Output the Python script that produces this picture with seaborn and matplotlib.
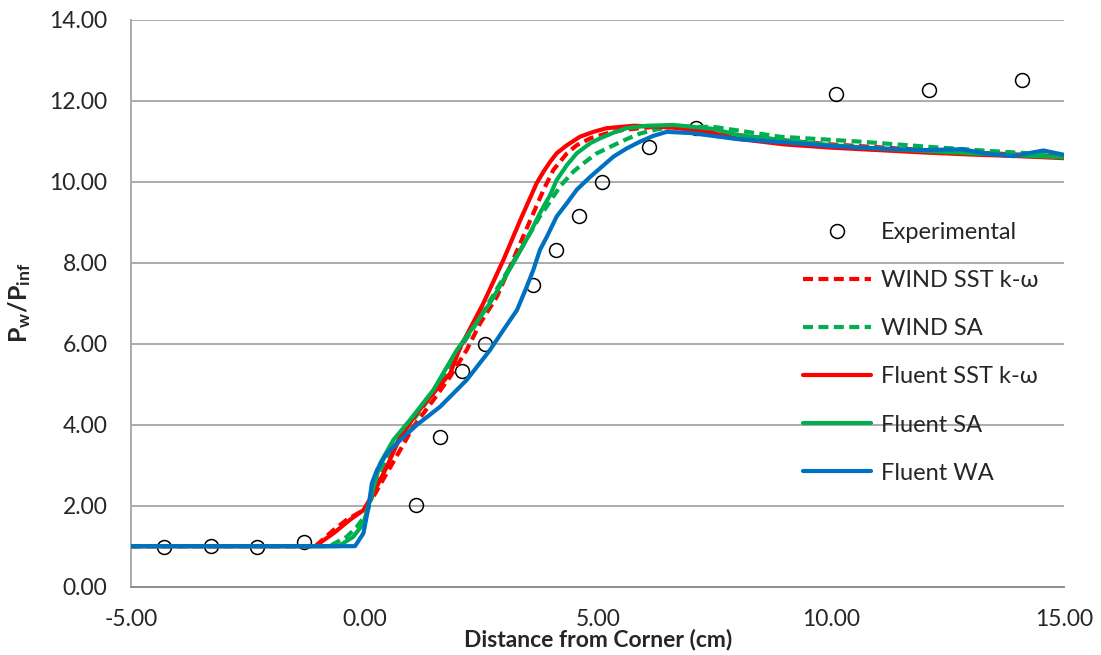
import matplotlib
matplotlib.use("Agg")
import matplotlib.pyplot as plt
import seaborn as sns
import pandas as pd
from matplotlib.ticker import MultipleLocator, FormatStrFormatter

# ---------------- data ----------------
exp_x = [-4.29, -3.29, -2.29, -1.29, 1.11, 1.61, 2.10, 2.59, 3.61, 4.11, 4.59, 5.09, 6.10, 7.10, 10.10, 12.10, 14.10]
exp_y = [0.99, 1.01, 0.99, 1.10, 2.02, 3.69, 5.33, 5.98, 7.45, 8.31, 9.14, 9.98, 10.85, 11.33, 12.17, 12.27, 12.52]

wind_sst_x = [-5.0, -1.05, -0.66, -0.38, -0.02, 0.19, 0.48, 0.77, 1.05, 1.48, 1.84, 2.19, 2.48, 2.84, 3.09,
              3.34, 3.59, 3.84, 4.05, 4.34, 4.55, 4.84, 5.19, 5.55, 6.26, 7.0, 8.0, 9.0, 10.0, 11.0, 12.0,
              13.0, 14.0, 15.0]
wind_sst_y = [1.0, 1.0, 1.40, 1.65, 1.89, 2.22, 2.80, 3.38, 3.95, 4.61, 5.19, 5.84, 6.50, 7.16, 7.82,
              8.48, 9.14, 9.80, 10.29, 10.70, 10.90, 11.07, 11.19, 11.28, 11.36, 11.30, 11.15, 11.02, 10.92,
              10.85, 10.78, 10.72, 10.67, 10.62]

wind_sa_x = [-5.0, -0.75, -0.38, -0.16, 0.05, 0.19, 0.41, 0.69, 1.05, 1.48, 1.98, 2.40, 2.91, 3.34, 3.76,
             3.98, 4.19, 4.48, 4.69, 4.98, 5.34, 5.62, 5.91, 6.26, 6.62, 7.5, 8.9, 10.6, 12.1, 13.5, 15.0]
wind_sa_y = [1.0, 1.0, 1.23, 1.48, 1.81, 2.30, 2.96, 3.54, 4.12, 4.78, 5.76, 6.50, 7.49, 8.31, 9.14,
             9.51, 9.88, 10.25, 10.45, 10.70, 10.90, 11.05, 11.19, 11.29, 11.36, 11.35, 11.11, 10.99,
             10.86, 10.75, 10.65]

fl_sst_x = [-5.0, -1.05, -0.66, -0.31, -0.02, 0.19, 0.48, 0.77, 1.12, 1.48, 1.84, 2.05, 2.55, 2.98, 3.34,
            3.69, 3.84, 3.98, 4.12, 4.34, 4.62, 4.91, 5.19, 5.77, 6.30, 6.76, 7.34, 8.05, 9.0, 10.0, 11.0,
            12.0, 13.0, 14.0, 15.0]
fl_sst_y = [1.0, 1.0, 1.32, 1.65, 1.89, 2.30, 2.96, 3.70, 4.28, 4.78, 5.27, 5.90, 7.00, 8.07, 9.05,
            9.96, 10.25, 10.49, 10.70, 10.90, 11.11, 11.23, 11.32, 11.38, 11.36, 11.32, 11.23, 11.05,
            10.92, 10.84, 10.78, 10.72, 10.67, 10.63, 10.58]

fl_sa_x = [-5.0, -0.55, -0.24, -0.02, 0.12, 0.34, 0.62, 0.98, 1.48, 1.98, 2.34, 2.69, 2.98, 3.27, 3.55,
           3.76, 3.98, 4.12, 4.34, 4.55, 4.84, 5.05, 5.34, 5.62, 6.05, 6.62, 7.5, 8.0, 9.0, 10.0, 11.0,
           12.0, 13.0, 14.0, 15.0]
fl_sa_y = [1.0, 1.0, 1.23, 1.56, 2.14, 3.05, 3.62, 4.12, 4.86, 5.84, 6.42, 7.00, 7.57, 8.15, 8.73,
           9.22, 9.67, 10.04, 10.41, 10.70, 10.95, 11.07, 11.21, 11.32, 11.38, 11.40, 11.30, 11.15,
           11.02, 10.90, 10.82, 10.76, 10.70, 10.65, 10.60]

fl_wa_x = [-5.0, -0.20, -0.02, 0.09, 0.16, 0.27, 0.48, 0.77, 1.12, 1.62, 2.19, 2.69, 2.98, 3.27, 3.48,
           3.62, 3.76, 3.91, 4.12, 4.34, 4.55, 4.84, 5.05, 5.34, 5.62, 5.91, 6.19, 6.48, 7.0, 8.0, 9.0,
           10.0, 11.0, 12.0, 12.8, 13.3, 13.9, 14.55, 15.0]
fl_wa_y = [1.0, 1.0, 1.32, 1.98, 2.55, 2.88, 3.29, 3.62, 3.99, 4.44, 5.10, 5.84, 6.34, 6.83, 7.41,
           7.82, 8.31, 8.64, 9.14, 9.47, 9.80, 10.12, 10.33, 10.62, 10.82, 10.99, 11.13, 11.23, 11.20,
           11.05, 10.97, 10.88, 10.82, 10.78, 10.80, 10.70, 10.63, 10.77, 10.66]

series_names = ["WIND SST k-\u03c9", "WIND SA", "Fluent SST k-\u03c9", "Fluent SA", "Fluent WA"]
series_x = [wind_sst_x, wind_sa_x, fl_sst_x, fl_sa_x, fl_wa_x]
series_y = [wind_sst_y, wind_sa_y, fl_sst_y, fl_sa_y, fl_wa_y]
series_colors = ["#FF0000", "#00B050", "#FF0000", "#00B050", "#0070C0"]
series_dashed = [True, True, False, False, False]

x_ticks = [-5, 0, 5, 10, 15]
y_ticks = [0, 2, 4, 6, 8, 10, 12, 14]

# ---------------- style ----------------
sns.set_style("white")
plt.rcParams["font.family"] = ["Lato", "DejaVu Sans"]
plt.rcParams["mathtext.fontset"] = "custom"
plt.rcParams["mathtext.rm"] = "Lato"
plt.rcParams["mathtext.bf"] = "Lato:bold"
plt.rcParams["mathtext.it"] = "Lato:italic"

fig = plt.figure(figsize=(11.01, 6.55), dpi=100)
ax = fig.add_axes([0.119, 0.1043, 0.8478, 0.8657])

grid_col = "#ABABAB"
ax.set_axisbelow(True)
ax.yaxis.grid(True, color=grid_col, linewidth=1.4)
ax.xaxis.grid(False)

exp_df = pd.DataFrame({"x": exp_x, "y": exp_y})
sns.lineplot(data=exp_df, x="x", y="y", ax=ax, estimator=None, sort=False,
             linestyle="none", marker="o", markersize=10, markerfacecolor="none",
             markeredgecolor="black", markeredgewidth=1.1, color="black",
             label="Experimental", zorder=2)

for name, xs, ys, col, dsh in zip(series_names, series_x, series_y, series_colors, series_dashed):
    df = pd.DataFrame({"x": xs, "y": ys})
    kw = dict(dashes=(2.4, 1.3)) if dsh else {}
    sns.lineplot(data=df, x="x", y="y", ax=ax, estimator=None, sort=False,
                 color=col, linewidth=3.0, label=name, zorder=3, **kw)

ax.set_xlim(-5, 15)
ax.set_ylim(0, 14)
ax.set_xticks(x_ticks)
ax.set_yticks(y_ticks)
ax.xaxis.set_minor_locator(MultipleLocator(1))
ax.xaxis.set_major_formatter(FormatStrFormatter("%.2f"))
ax.yaxis.set_major_formatter(FormatStrFormatter("%.2f"))

for s in ["top", "right"]:
    ax.spines[s].set_visible(False)
ax.spines["left"].set_color(grid_col)
ax.spines["left"].set_linewidth(1.4)
ax.spines["bottom"].set_color("#8C8C8C")
ax.spines["bottom"].set_linewidth(1.4)

ax.tick_params(axis="x", which="major", direction="inout", length=12, width=1.2,
               color="#8C8C8C", labelsize=16.5, pad=10)
ax.tick_params(axis="x", which="minor", direction="in", length=5.5, width=1.2,
               color="#8C8C8C")
ax.tick_params(axis="y", which="major", length=0, labelsize=16.5, pad=17)

ax.set_xlabel("Distance from Corner (cm)", fontsize=16.5, fontweight="bold", labelpad=-1)
ax.set_ylabel(r"$\mathbf{P_{w}/P_{inf}}$", fontsize=18, labelpad=12)

leg = ax.legend(loc="upper left", bbox_to_anchor=(803 / 1101, 1 - 222 / 655),
                bbox_transform=fig.transFigure, frameon=False, fontsize=17,
                handlelength=2.9, handletextpad=0.4, labelspacing=1.15,
                borderpad=0, borderaxespad=0, numpoints=1)

fig.savefig("out.png", dpi=100)
